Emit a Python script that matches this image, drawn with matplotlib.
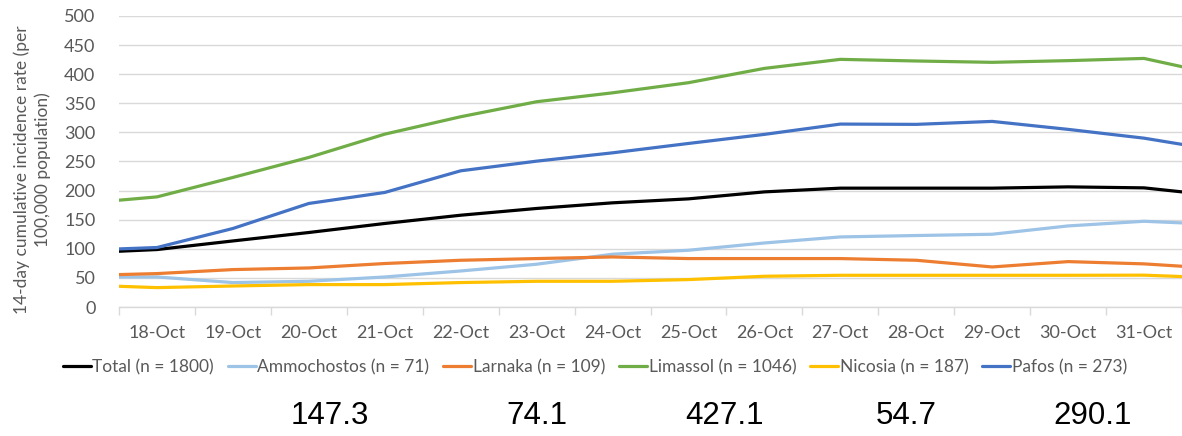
import matplotlib
matplotlib.use("Agg")
import matplotlib.pyplot as plt
from matplotlib.ticker import FixedLocator, NullFormatter

# ---- data ----
# index 0 (17-Oct) and last (1-Nov) are partially visible at the plot edges
dates = ["17-Oct", "18-Oct", "19-Oct", "20-Oct", "21-Oct", "22-Oct", "23-Oct", "24-Oct",
         "25-Oct", "26-Oct", "27-Oct", "28-Oct", "29-Oct", "30-Oct", "31-Oct", "1-Nov"]
visible_labels = dates[1:-1]

total       = [92.9, 98.7, 113.5, 128.0, 143.5, 157.7, 169.3, 179.0, 185.8, 197.8, 204.2, 204.2, 204.2, 206.4, 204.7, 190.9]
ammochostos = [51.6, 51.6, 42.0, 44.2, 51.6, 61.9, 73.5, 90.7, 97.5, 110.0, 120.4, 122.8, 125.0, 139.3, 147.3, 141.7]
larnaka     = [54.0, 57.4, 64.3, 67.1, 74.7, 80.3, 83.2, 86.0, 83.2, 83.2, 83.2, 80.3, 68.8, 78.0, 74.1, 65.9]
limassol    = [177.8, 189.2, 222.6, 257.0, 297.0, 326.9, 352.7, 368.0, 385.4, 410.0, 425.5, 422.7, 420.4, 423.3, 427.1, 398.7]
nicosia     = [37.9, 33.3, 36.1, 38.5, 38.5, 42.0, 44.2, 44.2, 47.1, 52.8, 54.5, 54.5, 54.5, 54.5, 54.7, 49.9]
pafos       = [97.4, 102.2, 134.9, 177.9, 196.8, 234.0, 250.6, 264.9, 281.0, 296.6, 314.3, 313.8, 318.9, 305.2, 290.1, 268.7]

series_names = ["Total (n = 1800)", "Ammochostos (n = 71)", "Larnaka (n = 109)",
                "Limassol (n = 1046)", "Nicosia (n = 187)", "Pafos (n = 273)"]
series_values = [total, ammochostos, larnaka, limassol, nicosia, pafos]
series_colors = ["#000000", "#9DC3E6", "#ED7D31", "#70AD47", "#FFC000", "#4472C4"]

summary_values = [147.3, 74.1, 427.1, 54.7, 290.1]
summary_x_px = [330, 537, 725, 906, 1093]

yticks = [0, 50, 100, 150, 200, 250, 300, 350, 400, 450, 500]
ylabel = "14-day cumulative incidence rate (per\n100,000 population)"

# ---- figure ----
W, H = 1182, 436
fig = plt.figure(figsize=(W / 100, H / 100), dpi=100)
FONT = "Lato"
GRAY = "#595959"
GRID = "#D9D9D9"

ax = fig.add_axes([119 / W, 1 - 307 / H, (W - 119) / W, (307 - 16) / H])
x = list(range(len(dates)))
handles = []
for name, vals, col in zip(series_names, series_values, series_colors):
    h, = ax.plot(x, vals, color=col, lw=2.3, solid_capstyle="round", solid_joinstyle="round",
                 label=name, clip_on=True)
    handles.append(h)

ax.set_xlim(0.5, len(dates) - 1.5)
ax.set_ylim(0, 500)
ax.set_yticks(yticks)
ax.set_yticklabels([str(v) for v in yticks], fontsize=13, color=GRAY, family=FONT)
ax.tick_params(axis="y", length=0, pad=17)
ax.grid(axis="y", color=GRID, lw=1.0)
ax.set_axisbelow(True)

ax.set_xticks(range(1, len(dates) - 1))
ax.set_xticklabels(visible_labels, fontsize=13, color=GRAY, family=FONT)
ax.xaxis.set_minor_locator(FixedLocator([i + 0.5 for i in range(0, len(dates) - 1)]))
ax.xaxis.set_minor_formatter(NullFormatter())
ax.tick_params(axis="x", which="major", length=0, pad=13)
ax.tick_params(axis="x", which="minor", length=6, color=GRID, width=1.0)

for s in ["top", "right", "left"]:
    ax.spines[s].set_visible(False)
ax.spines["bottom"].set_color(GRID)
ax.spines["bottom"].set_linewidth(1.0)

fig.text(32 / W, 1 - 170 / H, ylabel, rotation=90, ha="center", va="center",
         fontsize=12.5, color=GRAY, family=FONT, linespacing=1.3)

leg = fig.legend(handles=handles, labels=series_names, loc="center",
                 bbox_to_anchor=(595 / W, 1 - 367 / H), ncol=6, frameon=False,
                 handlelength=1.6, handletextpad=0.1, columnspacing=0.8,
                 prop={"family": FONT, "size": 12.5})
for t in leg.get_texts():
    t.set_color(GRAY)

for v, px in zip(summary_values, summary_x_px):
    fig.text(px / W, 1 - 416 / H, f"{v:.1f}", ha="center", va="center",
             fontsize=22.5, color="#000000", family="Liberation Sans")

fig.savefig("out.png", dpi=100)
